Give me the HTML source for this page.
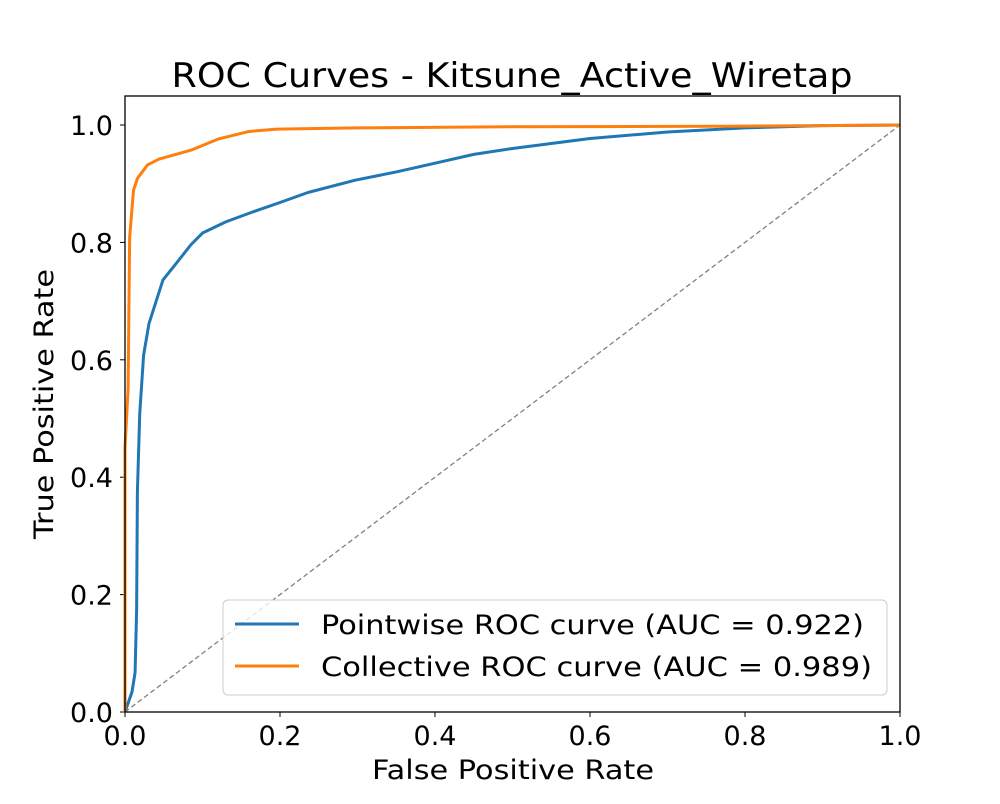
<!DOCTYPE html>
<html><head><meta charset="utf-8"><style>
body{margin:0;background:#fff;font-family:"DejaVu Sans","Liberation Sans",sans-serif}
</style></head><body>
<svg width="1000" height="800" viewBox="0 0 1000 800" font-family="DejaVu Sans, Liberation Sans, sans-serif">
<rect width="1000" height="800" fill="#fff"/>
<text x="512" y="87" font-size="34" text-anchor="middle" textLength="681" lengthAdjust="spacingAndGlyphs">ROC Curves - Kitsune_Active_Wiretap</text>
<g id="ticks"></g>
<line x1="125" y1="712" x2="900" y2="125" stroke="#808080" stroke-width="1.3" stroke-dasharray="5,3"/>
<g id="curves"></g>
<rect x="125" y="96" width="775" height="616" fill="none" stroke="#000" stroke-width="1.3"/>
<text x="513" y="779" font-size="27" text-anchor="middle" textLength="282" lengthAdjust="spacingAndGlyphs">False Positive Rate</text>
<text transform="translate(53,404) rotate(-90)" font-size="27" text-anchor="middle" textLength="270" lengthAdjust="spacingAndGlyphs">True Positive Rate</text>
<g>
<rect x="223" y="600" width="664" height="95" rx="5" fill="#fff" fill-opacity="0.8" stroke="#ccc"/>
<line x1="235" y1="624" x2="299" y2="624" stroke="#1f77b4" stroke-width="3"/>
<text x="321" y="634" font-size="27" textLength="543" lengthAdjust="spacingAndGlyphs">Pointwise ROC curve (AUC = 0.922)</text>
<line x1="235" y1="666" x2="299" y2="666" stroke="#ff7f0e" stroke-width="3"/>
<text x="321" y="676" font-size="27" textLength="551" lengthAdjust="spacingAndGlyphs">Collective ROC curve (AUC = 0.989)</text>
</g>
</svg>
<script>
const tickValues=[0,0.2,0.4,0.6,0.8,1.0];
const tickLabels=["0.0","0.2","0.4","0.6","0.8","1.0"];
const pointFpr=[0,0.009,0.013,0.015,0.016,0.019,0.024,0.031,0.049,0.069,0.085,0.1,0.13,0.165,0.2,0.236,0.297,0.35,0.4,0.45,0.5,0.6,0.7,0.8,0.9,1];
const pointTpr=[0,0.034,0.067,0.174,0.375,0.508,0.608,0.662,0.736,0.769,0.796,0.816,0.835,0.852,0.868,0.885,0.906,0.92,0.935,0.95,0.96,0.977,0.988,0.995,0.999,1];
const collFpr=[0,0,0.004,0.005,0.006,0.011,0.016,0.029,0.044,0.085,0.12,0.16,0.196,0.3,0.5,0.8,1];
const collTpr=[0,0.45,0.55,0.68,0.809,0.889,0.909,0.932,0.942,0.957,0.976,0.989,0.993,0.995,0.997,0.998,1];
const X=v=>125+v*775, Y=v=>712-v*587;
const NS="http://www.w3.org/2000/svg";
const tg=document.getElementById('ticks');
tickValues.forEach((v,i)=>{
  let l=document.createElementNS(NS,'line');
  l.setAttribute('x1',X(v));l.setAttribute('x2',X(v));l.setAttribute('y1',712);l.setAttribute('y2',717);l.setAttribute('stroke','#000');
  
  
  tg.appendChild(l);
  let t=document.createElementNS(NS,'text');
  t.setAttribute('x',X(v));t.setAttribute('y',745);t.setAttribute('font-size','27');t.setAttribute('text-anchor','middle');t.textContent=tickLabels[i];
  
  
  tg.appendChild(t);
  let l2=document.createElementNS(NS,'line');
  l2.setAttribute('x1',120);l2.setAttribute('x2',125);l2.setAttribute('y1',Y(v));l2.setAttribute('y2',Y(v));l2.setAttribute('stroke','#000');
  
  
  tg.appendChild(l2);
  let t2=document.createElementNS(NS,'text');
  t2.setAttribute('x',113);t2.setAttribute('y',Y(v)+10);t2.setAttribute('font-size','27');t2.setAttribute('text-anchor','end');t2.textContent=tickLabels[i];
  
  
  tg.appendChild(t2);
});
const cg=document.getElementById('curves');
function curve(xs,ys,color,name){
  let p=document.createElementNS(NS,'polyline');
  p.setAttribute('points',xs.map((x,i)=>X(x)+','+Y(ys[i])).join(' '));
  p.setAttribute('fill','none');p.setAttribute('stroke',color);p.setAttribute('stroke-width','3');p.setAttribute('stroke-linejoin','round');
  
  
  cg.appendChild(p);
}
curve(pointFpr,pointTpr,'#1f77b4','pointwise-roc-curve');
curve(collFpr,collTpr,'#ff7f0e','collective-roc-curve');
</script>
</body></html>
